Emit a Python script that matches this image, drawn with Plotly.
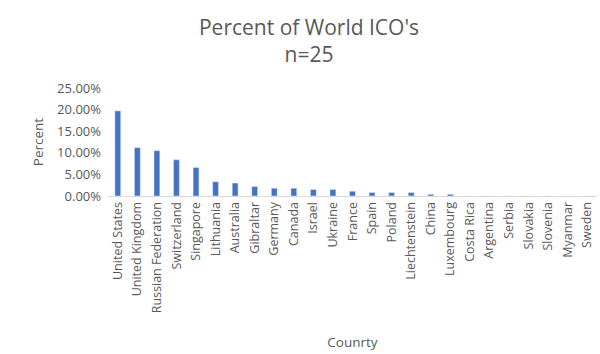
import plotly.graph_objects as go

countries = ["United States", "United Kingdom", "Russian Federation", "Switzerland", "Singapore",
             "Lithuania", "Australia", "Gibraltar", "Germany", "Canada", "Israel", "Ukraine",
             "France", "Spain", "Poland", "Liechtenstein", "China", "Luxembourg", "Costa Rica",
             "Argentina", "Serbia", "Slovakia", "Slovenia", "Myanmar", "Sweden"]
percent = [0.197, 0.112, 0.105, 0.084, 0.066, 0.033, 0.030, 0.022, 0.018, 0.018, 0.015, 0.015,
           0.011, 0.008, 0.008, 0.008, 0.004, 0.004, 0.0, 0.0, 0.0, 0.0, 0.0, 0.0, 0.0]
y_ticks = [0, 0.05, 0.10, 0.15, 0.20, 0.25]

font_fam = "Open Sans, Calibri, sans-serif"
gray = "#595959"

fig = go.Figure(go.Bar(x=countries, y=percent, marker_color="#4472C4", width=0.3))

fig.update_layout(
    width=600, height=354,
    margin=dict(l=108, r=3, t=88, b=158),
    paper_bgcolor="white", plot_bgcolor="white",
    title=dict(text="Percent of World ICO's<br>n=25", x=0.515, xanchor="center",
               y=0.901, yanchor="top",
               font=dict(family=font_fam, size=21, color=gray)),
    font=dict(family=font_fam, color=gray),
    showlegend=False,
)
fig.update_xaxes(
    tickangle=-90, tickfont=dict(size=12.5, color=gray),
    showline=True, linecolor="#d9d9d9", linewidth=1, showgrid=False,
    ticks="", automargin=False,
    title=dict(text="Counrty", font=dict(size=13.5, color=gray), standoff=25),
)
fig.update_yaxes(
    range=[0, 0.25], tickvals=y_ticks, tickformat=".2%",
    tickfont=dict(size=13, color=gray), showgrid=False, zeroline=False,
    showline=False, ticks="", automargin=False, ticklabelstandoff=6,
    title=dict(text="Percent", font=dict(size=13.5, color=gray), standoff=10),
)

fig.write_html("out.html")
